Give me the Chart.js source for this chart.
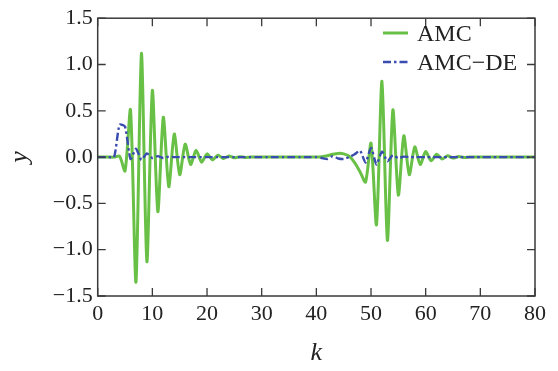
<!DOCTYPE html>
<html><head><meta charset="utf-8">
<script src="https://cdn.jsdelivr.net/npm/chart.js@4.4.0/dist/chart.umd.min.js"></script>
<style>html,body{margin:0;padding:0;background:#fff}canvas{display:block}</style>
</head><body>
<canvas id="c" width="558" height="371"></canvas>
<script>
const kValues = [0,1,2,3,4,5,6,7,8,9,10,11,12,13,14,15,16,17,18,19,20,21,22,23,24,25,26,27,28,29,30,31,32,33,34,35,36,37,38,39,40,41,42,43,44,45,46,47,48,49,50,51,52,53,54,55,56,57,58,59,60,61,62,63,64,65,66,67,68,69,70,71,72,73,74,75,76,77,78,79,80];
const amc = [0,0,0,0,0.01,-0.15,0.51,-1.35,1.12,-1.13,0.72,-0.59,0.43,-0.32,0.25,-0.19,0.14,-0.08,0.075,-0.055,0.035,-0.03,0.02,-0.015,0.012,-0.008,0.005,-0.003,
  0,0,0,0,0,0,0,0,0,0,0,0,0,
  0.005,0.015,0.03,0.04,0.035,0.01,-0.06,-0.16,-0.27,0.15,-0.73,0.82,-0.90,0.51,-0.41,0.23,-0.19,0.11,-0.08,0.06,-0.04,0.03,-0.02,0.015,-0.01,0.006,-0.004,
  0,0,0,0,0,0,0,0,0,0,0,0,0];
const amcDe = [0,0,0,0,0.35,0.33,-0.02,0.09,-0.03,0.04,-0.01,0.01,-0.01,0.005,
  0,0,0,0,0,0,0,0,0,0,0,0,0,0,0,0,0,0,0,0,0,0,0,0,0,0,0,
  -0.01,-0.02,0.01,-0.015,-0.02,0,0.03,0.07,-0.06,0.10,-0.08,0.06,-0.045,0.02,-0.01,0.005,
  0,0,0,0,0,0,0,0,0,0,0,0,0,0,0,0,0,0,0,0,0,0,0,0];
const xTicks = [0,10,20,30,40,50,60,70,80];
const yTicks = [-1.5,-1.0,-0.5,0.0,0.5,1.0,1.5];
const seriesNames = ['AMC', 'AMC\u2212DE'];
const xTitle = 'k';
const yTitle = 'y';

const SERIF = '"Liberation Serif", "Times New Roman", Times, serif';
const GREEN = '#68c146';
const BLUE = '#3a4cb0';

const framePlugin = {
  id: 'frame',
  afterDatasetsDraw(chart) {
    const {ctx, chartArea: a, scales: {x, y}} = chart;
    ctx.save();
    ctx.strokeStyle = '#3a3a3a';
    ctx.lineWidth = 1.3;
    const L = 8;
    ctx.beginPath();
    x.ticks.forEach(t => {
      const px = x.getPixelForValue(t.value);
      ctx.moveTo(px, a.bottom); ctx.lineTo(px, a.bottom - L);
      ctx.moveTo(px, a.top); ctx.lineTo(px, a.top + L);
    });
    y.ticks.forEach(t => {
      const py = y.getPixelForValue(t.value);
      ctx.moveTo(a.left, py); ctx.lineTo(a.left + L, py);
      ctx.moveTo(a.right, py); ctx.lineTo(a.right - L, py);
    });
    ctx.stroke();
    ctx.lineWidth = 1.5;
    ctx.strokeRect(a.left, a.top, a.right - a.left, a.bottom - a.top);
    const rows = [33, 62];
    const order = [1, 0];
    ctx.font = '24px ' + SERIF;
    ctx.textBaseline = 'middle';
    ctx.textAlign = 'left';
    order.forEach((di, r) => {
      const ds = chart.data.datasets[di];
      const ly = rows[r];
      ctx.save();
      ctx.strokeStyle = ds.borderColor;
      ctx.lineWidth = ds.borderWidth;
      ctx.setLineDash(ds.borderDash || []);
      ctx.beginPath();
      ctx.moveTo(a.right - 152, ly); ctx.lineTo(a.right - 127, ly);
      ctx.stroke();
      ctx.restore();
      ctx.fillStyle = '#222';
      ctx.fillText(ds.label, a.right - 118, ly + 2);
    });
    ctx.restore();
  }
};

new Chart(document.getElementById('c'), {
  type: 'line',
  data: {
    datasets: [
      {
        label: seriesNames[1],
        data: kValues.map((k, i) => ({x: k, y: amcDe[i]})),
        borderColor: BLUE, borderWidth: 2.4, borderDash: [8, 3, 2.5, 3],
        pointRadius: 0, tension: 0.2, fill: false, order: 0
      },
      {
        label: seriesNames[0],
        data: kValues.map((k, i) => ({x: k, y: amc[i]})),
        borderColor: GREEN, borderWidth: 3, pointRadius: 0, tension: 0.25, fill: false, order: 1
      }
    ]
  },
  options: {
    responsive: false,
    devicePixelRatio: 1,
    animation: false,
    layout: {padding: {left: 0, top: 10, right: 23, bottom: 0}},
    plugins: {legend: {display: false}, tooltip: {enabled: false}},
    scales: {
      x: {
        type: 'linear', min: 0, max: 80,
        afterBuildTicks: s => { s.ticks = xTicks.map(v => ({value: v})); },
        afterFit: s => { s.height = 75; },
        grid: {display: false, drawTicks: false},
        border: {display: false},
        ticks: {color: '#222', font: {family: SERIF, size: 22}, padding: 5, maxRotation: 0,
          callback: v => String(v)},
        title: {display: true, text: xTitle, color: '#222',
          font: {family: SERIF, size: 26, style: 'italic', lineHeight: 1}, padding: {top: 0, bottom: 5}}
      },
      y: {
        type: 'linear', min: -1.5, max: 1.5,
        afterBuildTicks: s => { s.ticks = yTicks.map(v => ({value: v})); },
        afterFit: s => { s.width = 97.7; },
        grid: {display: false, drawTicks: false},
        border: {display: false},
        ticks: {color: '#222', font: {family: SERIF, size: 22}, padding: 5,
          callback: v => Number(v).toFixed(1).replace('-', '\u2212')},
        title: {display: true, text: yTitle, color: '#222',
          font: {family: SERIF, size: 26, style: 'italic', lineHeight: 1}, padding: {top: 7, bottom: 0}}
      }
    }
  },
  plugins: [framePlugin]
});
</script>
</body></html>
